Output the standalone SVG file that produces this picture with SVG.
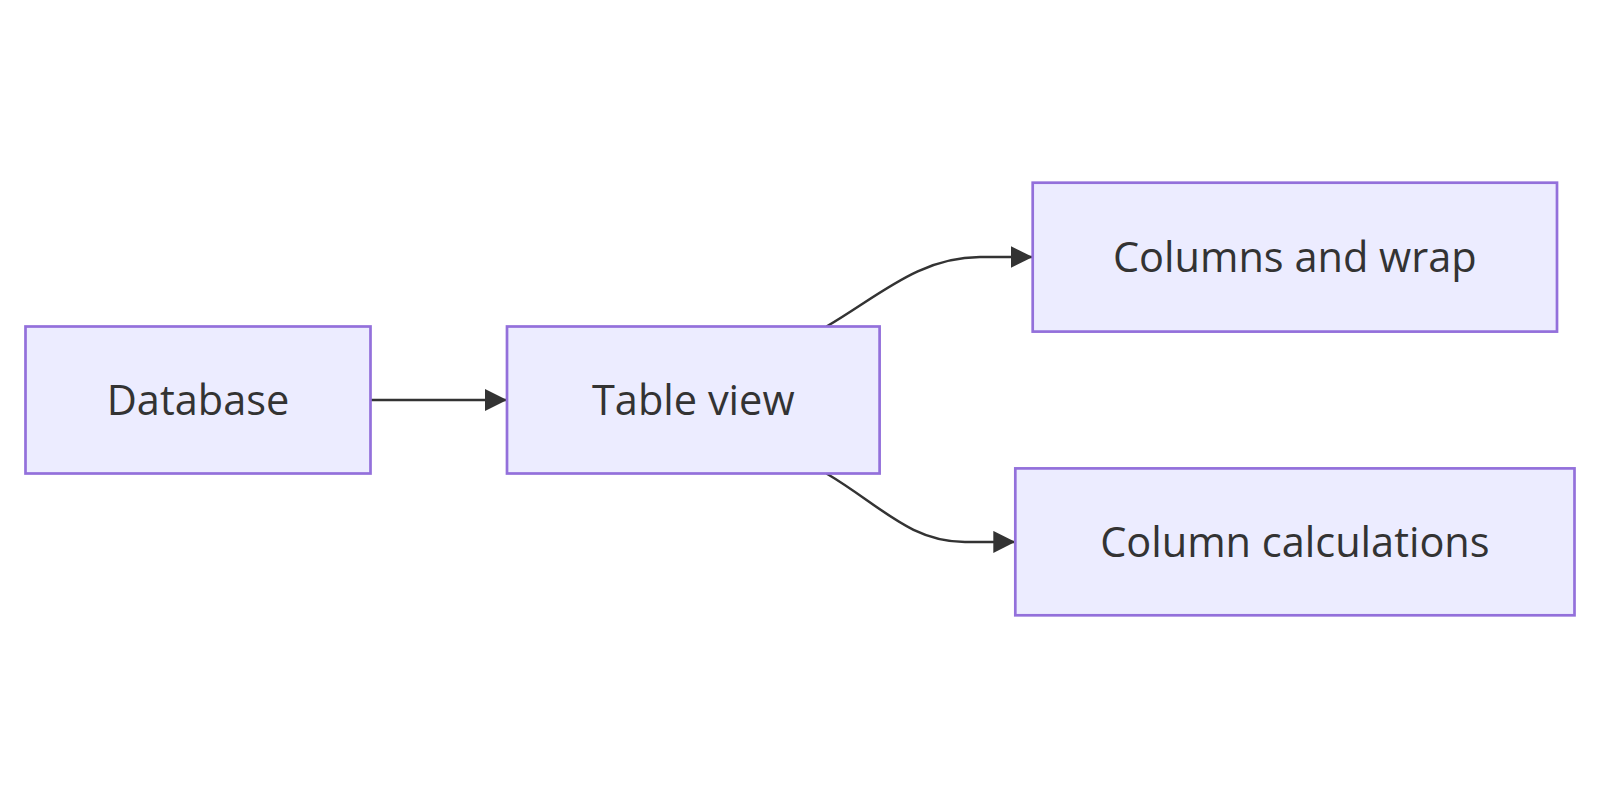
<svg xmlns="http://www.w3.org/2000/svg" width="1600" height="800" viewBox="0 0 1600 800">
<defs>
<style>
.node rect{fill:#ECECFF;stroke:#9370DB;stroke-width:2.7}
.node text{font-family:"Open Sans","DejaVu Sans",sans-serif;font-size:41.5px;fill:#333;text-anchor:middle;dominant-baseline:central}
.edge{fill:none;stroke:#333;stroke-width:2.5}
</style>
<marker id="arrow" viewBox="0 0 10 10" refX="10" refY="5" markerUnits="userSpaceOnUse" markerWidth="22" markerHeight="22" orient="auto">
<path d="M0,0 L10,5 L0,10 z" fill="#333"/>
</marker>
</defs>
<rect width="1600" height="800" fill="#fff"/>
<g id="connectors">
<path class="edge" d="M370.4,400 L507,400" marker-end="url(#arrow)"/>
<path class="edge" d="M826.5,326.5 C880,295 920,257 980,257 L1032.7,257" marker-end="url(#arrow)"/>
<path class="edge" d="M826.5,473.5 C880,505 910,541.9 965,541.9 L1015.3,541.9" marker-end="url(#arrow)"/>
</g>
<g id="database" class="node">
<rect x="25.5" y="326.5" width="345" height="147"/>
<text x="198" y="399">Database</text>
</g>
<g id="tableview" class="node">
<rect x="507" y="326.5" width="372.6" height="147"/>
<text x="693.3" y="399">Table view</text>
</g>
<g id="columnswrap" class="node">
<rect x="1032.7" y="182.7" width="524.3" height="148.9"/>
<text x="1294.8" y="256">Columns and wrap</text>
</g>
<g id="columncalc" class="node">
<rect x="1015.3" y="468.4" width="559.2" height="146.9"/>
<text x="1294.9" y="541">Column calculations</text>
</g>
</svg>
